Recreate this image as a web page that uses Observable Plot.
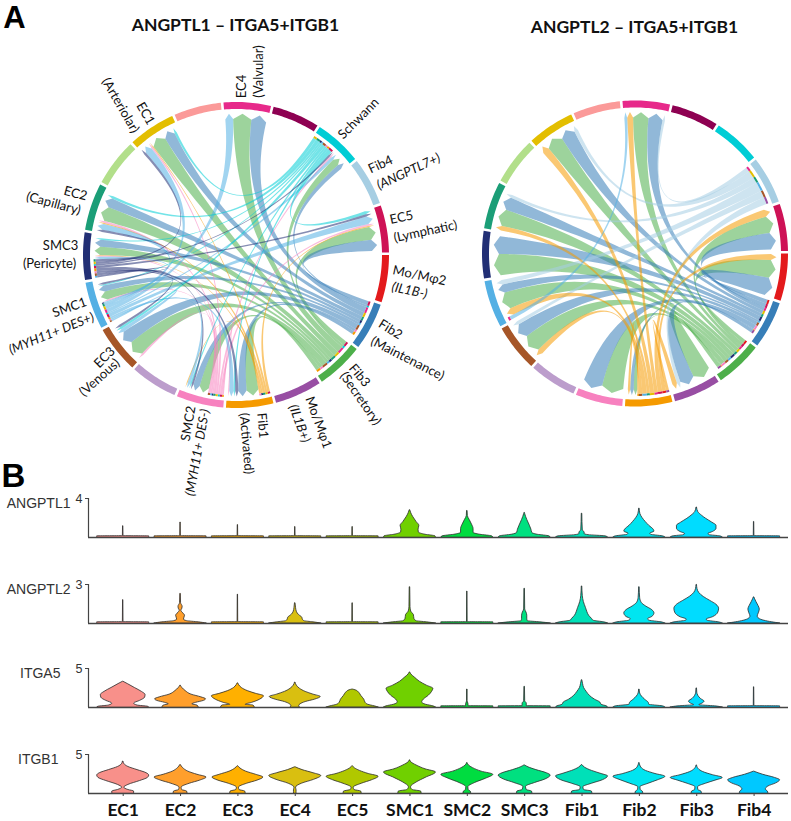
<!DOCTYPE html>
<html>
<head>
<meta charset="utf-8">
<style>
html,body{margin:0;padding:0;background:#fff}
svg{display:block;overflow:visible}
#page{width:791px;position:relative}
</style>
<script src="https://cdn.jsdelivr.net/npm/d3@7"></script>
<script src="https://cdn.jsdelivr.net/npm/@observablehq/plot@0.6"></script>
</head>
<body>
<div id="page"></div>
<script>
// ---- Panel A data: the 19 sectors, in clockwise order from the top
const sectorNames = ["EC4","Mast","Schwann","Fib4","EC5","Mo2","Fib2","Fib3","Mo1","Fib1","SMC2","Lav","EC3","SMC1","SMC3","EC2","LtG","EC1","Sal"];
const sectorColors = ["#e7298a","#8e0152","#00cdd5","#a6cee3","#ce1256","#e31a1c","#377eb8","#4daf4a","#984ea3","#f59a00","#f781bf","#bc9dcc","#a65628","#54b0e4","#222f75","#1b9e77","#b2df8a","#e3be00","#fb9a99"];

// how much of each sending sector the outgoing ribbons occupy (degrees)
const sources1 = {Schwann:9.5, Fib2:15, Fib3:17, Fib1:4.5, SMC2:6.5, SMC1:8.5, SMC3:7.5};
const sources2 = {Fib4:17, Fib2:15, Fib3:16, Fib1:13, SMC1:1.5};

// receiving sector -> incoming ribbons clockwise: [sender, width in degrees]
const targets1 = {
  EC4:[["SMC1",3.3],["Fib3",7.7],["Fib2",6.3]],
  Schwann:[["SMC3",.7],["SMC2",.7],["SMC1",1.3],["Fib3",3],["Fib2",2]],
  EC5:[["Schwann",1.3],["SMC3",1],["SMC1",3.2],["SMC2",.8],["Fib1",.5],["Fib3",5.5],["Fib2",4.7]],
  EC3:[["SMC2",.8],["Fib3",6.5],["Fib2",5.5],["SMC1",1.5],["Schwann",1],["SMC3",1]],
  SMC1:[["SMC2",.6],["Fib3",3.5],["Fib2",2.6],["Schwann",.5],["SMC3",.8]],
  SMC3:[["SMC1",1],["SMC2",.4],["Fib1",.3],["Fib3",3.5],["Fib2",3],["Schwann",.6]],
  EC2:[["SMC3",1],["SMC1",2.5],["Fib1",.5],["SMC2",.8],["Fib3",6],["Fib2",4],["Schwann",1.1]],
  EC1:[["SMC3",1],["SMC1",3],["SMC2",.7],["Fib1",.4],["Fib3",6],["Fib2",4.5],["Schwann",1]],
  SMC2:[["Fib3",4],["Fib2",2.7],["SMC3",.8],["Schwann",.6],["SMC1",1.2],["Fib1",.4]],
  Fib1:[["Fib3",5],["Fib2",3.5],["SMC3",1.3],["Schwann",.7],["SMC1",1.8],["SMC2",.5]]
};
const targets2 = {
  EC4:[["SMC1",1.2],["Fib1",2.5],["Fib3",6.5],["Fib2",6],["Fib4",1]],
  EC5:[["Fib1",3],["Fib3",7],["Fib2",7]],
  Mo2:[["Fib1",2.5],["Fib3",7.5],["Fib2",7.5]],
  Mo1:[["Fib3",7.5],["Fib2",6],["Fib4",1.5],["Fib1",2]],
  Fib1:[["Fib3",1.5],["Fib2",1.5],["Fib1",1]],
  SMC2:[["Fib3",9],["Fib2",8]],
  EC3:[["Fib1",2.3],["Fib3",7.5],["Fib2",6],["Fib4",1.5]],
  SMC1:[["Fib1",3],["Fib3",7],["Fib2",3.5],["Fib4",2]],
  SMC3:[["Fib3",9],["Fib2",7.5]],
  EC2:[["Fib1",2],["Fib3",7],["Fib2",5.5],["Fib4",1.3]],
  EC1:[["Fib1",3],["Fib3",7],["Fib2",6],["Fib4",1.6]]
};

// sector labels
const plainLabels = ["EC4","(Valvular)","Schwann","Fib4","EC5","(Lymphatic)","Mo/Mφ2","Fib2","(Maintenance)","Fib3","(Secretory)","Mo/Mφ1","Fib1","(Activated)","SMC2","EC3","(Venous)","SMC1","SMC3","(Pericyte)","EC2","(Capillary)","EC1","(Arteriolar)"];
const italicLabels = ["(ANGPTL7+)","(IL1B-)","(IL1B+)","(MYH11+ DES-)","(MYH11+ DES+)"];
const titles = ["ANGPTL1 – ITGA5+ITGB1","ANGPTL2 – ITGA5+ITGB1"];

// ---- Panel B data
const clusters = ["EC1","EC2","EC3","EC4","EC5","SMC1","SMC2","SMC3","Fib1","Fib2","Fib3","Fib4"];
const clusterColors = ["#f8908a","#ff9f2c","#ffb000","#d9bf10","#b0c800","#70d000","#00dc40","#00e080","#00e0b8","#00e5f0","#00dcff","#00c8ff"];
const genes = ["ANGPTL1","ANGPTL2","ITGA5","ITGB1"];
const geneMax = [4,3,5,5];

// violin outlines: [height as share of the axis, half width as share of the widest]
const spike = h => [[0,1],[.03,1],[.035,.012],[h,.006]];
const violinANGPTL1 = [
  spike(.29), spike(.385), spike(.32), spike(.27), spike(.27),
  [[0,1],[.03,.98],[.07,.6],[.13,.34],[.2,.33],[.3,.36],[.4,.25],[.52,.13],[.62,.05],[.7,.01]],
  [[0,1],[.03,.95],[.07,.5],[.12,.24],[.22,.24],[.33,.18],[.45,.09],[.55,.02],[.68,.01]],
  [[0,1],[.03,.95],[.07,.5],[.12,.29],[.2,.26],[.3,.2],[.45,.1],[.6,.02],[.63,.01]],
  [[0,1],[.03,.9],[.06,.25],[.09,.1],[.13,.1],[.18,.03],[.61,.01]],
  [[0,1],[.03,.9],[.07,.45],[.1,.42],[.15,.58],[.2,.55],[.3,.38],[.4,.24],[.5,.12],[.6,.04],[.74,.01]],
  [[0,1],[.03,.9],[.06,.5],[.09,.45],[.14,.62],[.22,.76],[.3,.76],[.38,.6],[.48,.36],[.56,.2],[.65,.06],[.77,.01]],
  spike(.40)
];
const violinANGPTL2 = [
  spike(.60),
  [[0,1],[.03,.7],[.06,.25],[.1,.13],[.2,.17],[.3,.05],[.33,.03],[.38,.07],[.43,.08],[.52,.02],[.76,.01]],
  spike(.74),
  [[0,1],[.03,.7],[.06,.35],[.1,.29],[.15,.27],[.22,.14],[.3,.06],[.4,.03],[.52,.01]],
  spike(.52),
  [[0,1],[.03,.65],[.06,.25],[.12,.17],[.22,.15],[.3,.05],[.42,.02],[.93,.01]],
  spike(.82),
  [[0,1],[.03,.6],[.06,.12],[.12,.1],[.2,.1],[.28,.07],[.36,.02],[.89,.01]],
  [[0,1],[.03,.85],[.07,.45],[.12,.38],[.2,.27],[.3,.2],[.4,.15],[.55,.07],[.7,.03],[.95,.01]],
  [[0,1],[.03,.85],[.07,.4],[.11,.33],[.17,.5],[.26,.58],[.34,.5],[.44,.25],[.52,.1],[.65,.03],[.93,.01]],
  [[0,1],[.03,.85],[.07,.42],[.1,.38],[.16,.62],[.28,.83],[.38,.86],[.48,.76],[.58,.52],[.68,.27],[.78,.1],[.88,.03],[.99,.01]],
  [[0,1],[.03,.7],[.07,.4],[.12,.2],[.18,.14],[.26,.18],[.36,.22],[.45,.17],[.55,.09],[.62,.04],[.67,.01]]
];
const violinITGA5 = [
  [[0,1],[.02,.95],[.05,.55],[.1,.42],[.17,.65],[.25,.84],[.32,.86],[.4,.72],[.5,.45],[.6,.18],[.66,.01]],
  [[0,.7],[.05,.65],[.08,.45],[.12,.6],[.17,.9],[.21,.98],[.26,.8],[.33,.42],[.42,.2],[.5,.07],[.56,.01]],
  [[0,.65],[.05,.6],[.07,.3],[.12,.55],[.2,.85],[.29,1],[.35,.7],[.42,.38],[.5,.15],[.57,.05],[.62,.01]],
  [[0,.18],[.04,.15],[.08,.2],[.14,.4],[.2,.75],[.27,.98],[.33,.7],[.4,.4],[.48,.18],[.56,.06],[.64,.01]],
  [[0,1],[.03,.85],[.07,.6],[.12,.5],[.2,.45],[.3,.33],[.38,.25],[.44,.12],[.46,.01]],
  [[0,1],[.03,.9],[.07,.62],[.13,.47],[.2,.53],[.3,.72],[.4,.85],[.48,.9],[.56,.65],[.66,.38],[.76,.2],[.85,.05],[.9,.01]],
  [[0,1],[.03,1],[.035,.05],[.1,.04],[.16,.01],[.46,.01]],
  [[0,1],[.03,1],[.035,.08],[.1,.08],[.16,.02],[.53,.01]],
  [[0,1],[.03,.95],[.07,.75],[.13,.7],[.2,.5],[.3,.3],[.4,.18],[.5,.08],[.6,.04],[.7,.01]],
  [[0,1],[.03,.9],[.07,.38],[.12,.36],[.2,.22],[.28,.1],[.36,.03],[.46,.01]],
  [[0,1],[.03,.7],[.06,.1],[.1,.22],[.15,.3],[.22,.16],[.3,.06],[.38,.02],[.49,.01]],
  spike(.52)
];
const violinITGB1 = [
  [[0,.42],[.05,.42],[.09,.2],[.15,.04],[.22,.2],[.32,.65],[.4,.95],[.46,1],[.52,.9],[.6,.55],[.68,.2],[.75,.05],[.82,.01]],
  [[0,.27],[.05,.25],[.09,.06],[.15,.04],[.25,.35],[.33,.75],[.41,1],[.48,.65],[.56,.3],[.65,.1],[.73,.01]],
  [[0,.3],[.05,.28],[.09,.06],[.15,.04],[.25,.35],[.33,.75],[.41,.98],[.48,.7],[.56,.32],[.64,.1],[.7,.01]],
  [[0,.05],[.08,.05],[.15,.03],[.25,.25],[.35,.72],[.45,1],[.52,.7],[.6,.28],[.67,.02]],
  [[0,.35],[.05,.33],[.09,.07],[.15,.04],[.25,.35],[.34,.75],[.43,1],[.5,.62],[.58,.28],[.65,.08],[.7,.01]],
  [[0,.45],[.05,.43],[.09,.1],[.16,.04],[.28,.25],[.4,.6],[.54,1],[.62,.6],[.72,.25],[.8,.05],[.85,.01]],
  [[0,.15],[.05,.13],[.09,.05],[.16,.04],[.27,.3],[.38,.72],[.48,1],[.56,.55],[.65,.22],[.72,.06],[.78,.01]],
  [[0,.3],[.05,.28],[.09,.08],[.17,.05],[.27,.4],[.36,.8],[.46,1],[.52,.85],[.6,.45],[.67,.15],[.72,.01]],
  [[0,.4],[.05,.38],[.09,.08],[.16,.05],[.25,.38],[.34,.8],[.44,1],[.5,.75],[.58,.38],[.66,.12],[.73,.01]],
  [[0,.15],[.05,.13],[.09,.05],[.16,.04],[.25,.35],[.34,.72],[.43,1],[.5,.62],[.58,.25],[.66,.08],[.78,.01]],
  [[0,.2],[.05,.18],[.09,.06],[.16,.05],[.25,.35],[.33,.72],[.4,1],[.47,.62],[.55,.25],[.63,.07],[.72,.01]],
  [[0,.55],[.05,.53],[.1,.45],[.18,.55],[.26,.85],[.34,1],[.4,.8],[.48,.35],[.56,.01]]
];
const violinShapes = [violinANGPTL1, violinANGPTL2, violinITGA5, violinITGB1];

// ---- Layout (not data)
const PANEL_A_H = 495;
const centers = [{x:236,y:255},{x:635,y:253.5}];
const R = {ringOut:153, ringIn:146, strip2:142.5, strip1:140.5, source:140.5, shoulder:136, tip:141.5};
const START = -5.2, STEP = 360/19;
const placement = {
 "EC4":[241,86,-90],"(Valvular)":[258,71,-90],"Schwann":[358,118,-45],"Fib4":[380,164,-25],"(ANGPTL7+)":[408,171,-25],
 "EC5":[401,217,-12],"(Lymphatic)":[425,231,-12],"Mo/Mφ2":[419,275,12],"(IL1B-)":[409,290,12],"Fib2":[390,329,32],
 "(Maintenance)":[407,358,27],"Fib3":[359,375,50],"(Secretory)":[360,398,55],"Mo/Mφ1":[318,422,70],"(IL1B+)":[299,423,70],
 "Fib1":[262,425,85],"(Activated)":[246,443,85],"SMC2":[188,423,-80],"(MYH11+ DES-)":[197,452,-80],"EC3":[104,357,-45],
 "(Venous)":[99,377,-42],"SMC1":[69,307,-20],"(MYH11+ DES+)":[51,333,-22],"SMC3":[60,245,0],"(Pericyte)":[49,263,0],
 "EC2":[75,193,15],"(Capillary)":[53,203,15],"EC1":[145,113,60],"(Arteriolar)":[120,105,60]
};
const rowLayout = [
 {h:85,top:3,bottom:43,dx:-18},
 {h:85,top:4,bottom:42,dx:-18},
 {h:86,top:3,bottom:44,dx:-28},
 {h:70,top:3,bottom:28,dx:-30}
];

const rad = a => a*Math.PI/180;
const pol = (c,a,r) => [c.x + r*Math.sin(rad(a)), c.y - r*Math.cos(rad(a))];
const idx = n => sectorNames.indexOf(n);
const secStart = i => START + i*STEP;

function arcRows(c, a0, a1, r1, r2, id, color){
  const n = Math.max(2, Math.ceil(Math.abs(a1-a0)));
  return d3.range(n+1).map(k=>{
    const a = a0+(a1-a0)*k/n, p=pol(c,a,r1), q=pol(c,a,r2);
    return {x1:p[0],y1:p[1],x2:q[0],y2:q[1],id,color};
  });
}

function buildChord(ci, sources, targets){
  const c = centers[ci], links=[], rows=[], strips=[], rings=[];
  sectorNames.forEach((n,i)=>{
    rings.push(...arcRows(c, secStart(i)+.5, secStart(i)+STEP-.5, R.ringOut, R.ringIn, `${ci}r${i}`, sectorColors[i]));
    let cur = secStart(i)+.7;
    const srcStart = cur;
    if (sources[n]) cur += sources[n];
    for (const [s,w] of (targets[n]||[])) {
      links.push({src:s, tgt:n, t1:cur, t2:cur+w, w});
      cur += w;
    }
    if (sources[n]) sourceStarts[ci+n]=srcStart;
  });
  for (const s of Object.keys(sources)) {
    const out = links.filter(l=>l.src===s);
    const total = d3.sum(out,l=>l.w), a0 = sourceStarts[ci+s];
    out.forEach(l=>{l.d=((l.t1-a0)%360+360)%360;});
    out.sort((a,b)=>b.d-a.d);
    let cur=a0;
    out.forEach(l=>{ l.s1=cur; l.s2=cur+sources[s]*l.w/total; cur=l.s2; });
  }
  const drawOrder = ["Fib3","Fib2","Fib4","Fib1","SMC2","SMC1","Schwann","SMC3"];
  links.sort((a,b)=>drawOrder.indexOf(a.src)-drawOrder.indexOf(b.src));
  links.forEach((l,k)=>{
    const id=`${ci}l${k}`, color=sectorColors[idx(l.src)], N=36;
    const a0=pol(c,l.s1,R.source), a1=pol(c,l.t2,R.shoulder);
    const b0=pol(c,l.s2,R.source), b1=pol(c,l.t1,R.shoulder);
    const q=(p0,p1,t)=>[0,1].map(j=>(1-t)*(1-t)*p0[j]+2*t*(1-t)*[c.x,c.y][j]+t*t*p1[j]);
    for(let m=0;m<=N;m++){
      const t=m/N,A=q(a0,a1,t),B=q(b0,b1,t);
      rows.push({x1:A[0],y1:A[1],x2:B[0],y2:B[1],id,color});
    }
    const tip=pol(c,(l.t1+l.t2)/2,R.tip);
    rows.push({x1:tip[0],y1:tip[1],x2:tip[0],y2:tip[1],id,color});
    strips.push(...arcRows(c,l.s1,l.s2,R.strip1,R.strip2,`${ci}s${k}`,sectorColors[idx(l.tgt)]));
  });
  return {rows,strips,rings};
}
const sourceStarts = {};
const chordA = buildChord(0,sources1,targets1);
const chordB = buildChord(1,sources2,targets2);
const areaOpts = {x1:"x1",y1:"y1",x2:"x2",y2:"y2",z:"id",fill:"color"};
const labelFont = "Lato, 'Open Sans', sans-serif";
const labelOpts = names => names.map(n=>({text:n,x:placement[n][0],y:placement[n][1],rot:placement[n][2]}));

const panelA = Plot.plot({
  width:791,height:PANEL_A_H,margin:0,
  x:{domain:[0,791],range:[0,791],axis:null},
  y:{domain:[PANEL_A_H,0],range:[PANEL_A_H,0],axis:null},
  style:{background:"transparent"},
  marks:[
    Plot.area(chordA.rows,{...areaOpts,fillOpacity:.55}),
    Plot.area(chordB.rows,{...areaOpts,fillOpacity:.55}),
    Plot.area(chordA.strips,areaOpts),
    Plot.area(chordB.strips,areaOpts),
    Plot.area(chordA.rings,areaOpts),
    Plot.area(chordB.rings,areaOpts),
    Plot.text(labelOpts(plainLabels),{x:"x",y:"y",text:"text",rotate:"rot",fontSize:13,fontFamily:labelFont,fill:"#111"}),
    Plot.text(labelOpts(italicLabels),{x:"x",y:"y",text:"text",rotate:"rot",fontSize:13,fontStyle:"italic",fontFamily:labelFont,fill:"#111"}),
    Plot.text([{t:titles[0],x:235,y:25},{t:titles[1],x:634,y:27}],{x:"x",y:"y",text:"t",fontSize:17.5,fontWeight:"bold",fontFamily:labelFont,fill:"#111"}),
    Plot.text([{t:"A",x:14,y:18,s:31},{t:"B",x:13,y:476,s:33}],{x:"x",y:"y",text:"t",fontSize:"s",fontWeight:"bold",fontFamily:"'Liberation Sans',Arial,sans-serif",fill:"#000"})
  ]
});
document.getElementById("page").append(panelA);

// ---- Panel B rows
const VMAX = 0.4535;
const xDomain = [-0.605, 11.6];
genes.forEach((gene,g)=>{
  const L = rowLayout[g], max = geneMax[g], last = g===genes.length-1;
  const rows = violinShapes[g].flatMap((shape,i)=>shape.map(([f,w])=>({
    i, y:f*max, x1:i-w*VMAX, x2:i+w*VMAX, color:clusterColors[i]
  })));
  const marks = [
    Plot.area(rows,{x1:"x1",x2:"x2",y1:"y",y2:"y",z:"i",fill:"color",stroke:"#2a2a2a",strokeWidth:1,strokeOpacity:.8,curve:"monotone-y"}),
    Plot.ruleY([0],{stroke:"#444",strokeWidth:1.3}),
    Plot.ruleX([xDomain[0]],{y1:0,y2:max,stroke:"#444",strokeWidth:1.2}),
    Plot.axisY([max],{tickSize:3,tickPadding:3,fontSize:12.5,fontFamily:"'Liberation Sans',Arial,sans-serif",label:null,stroke:"#444",fill:"#333"}),
    Plot.text([gene],{x:()=>xDomain[0],y:()=>max,text:d=>d,dx:L.dx,dy:5,textAnchor:"end",fontSize:14,fontFamily:"'Liberation Sans',Arial,sans-serif",fill:"#333"})
  ];
  if (last) marks.push(Plot.axisX(d3.range(12),{tickFormat:i=>clusters[i],tickSize:3,tickPadding:7,fontSize:17.5,fontWeight:"bold",fontFamily:labelFont,fill:"#111",stroke:"#444",label:null}));
  const svg = Plot.plot({
    width:791,height:L.h,marginLeft:88,marginRight:3,marginTop:L.top,marginBottom:L.bottom,
    x:{domain:xDomain,axis:null},
    y:{domain:[0,max],axis:null},
    style:{background:"transparent"},
    marks
  });
  document.getElementById("page").append(svg);
});
</script>
</body>
</html>
